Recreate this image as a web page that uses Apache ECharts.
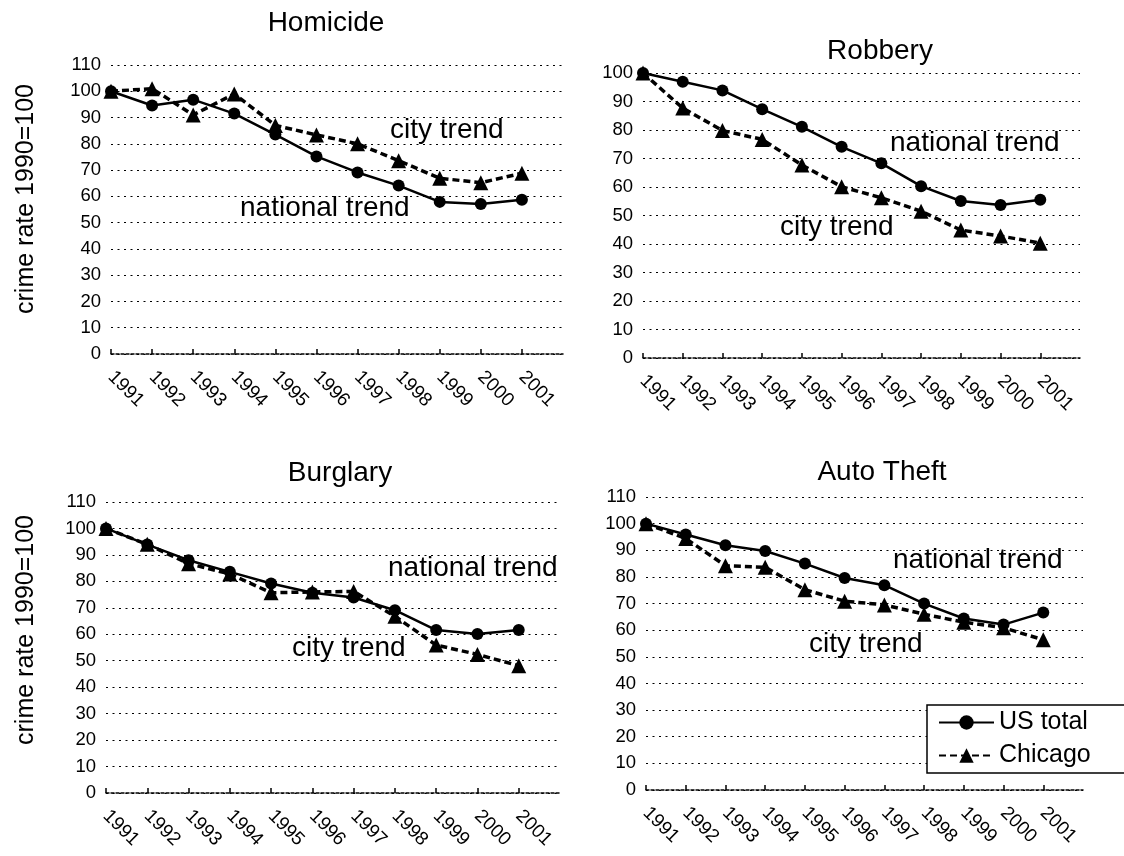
<!DOCTYPE html>
<html>
<head>
<meta charset="utf-8">
<script src="https://cdn.jsdelivr.net/npm/echarts@6/dist/echarts.min.js"></script>
<style>html,body{margin:0;padding:0;background:#fff}#c{width:1124px;height:856px}</style>
</head>
<body>
<div id="c"></div>
<script>
const years = ['1991','1992','1993','1994','1995','1996','1997','1998','1999','2000','2001',''];
const panelTitles = ['Homicide','Robbery','Burglary','Auto Theft'];
const yMax = [110, 100, 110, 110];

const homicideUS      = [100, 94.6, 96.8, 91.5, 83.5, 75.2, 69.1, 64.1, 57.9, 57.1, 58.7];
const homicideChicago = [100, 101, 91, 99, 87, 83.4, 80, 73.6, 66.9, 65.2, 68.8];
const robberyUS       = [100, 96.9, 93.9, 87.3, 81.1, 74.1, 68.3, 60.3, 55.1, 53.7, 55.5];
const robberyChicago  = [100, 87.7, 79.8, 76.7, 67.7, 60.1, 56.2, 51.5, 44.9, 42.8, 40.3];
const burglaryUS      = [100, 93.9, 88, 83.6, 79.2, 75.7, 73.9, 69.1, 61.6, 60.1, 61.6];
const burglaryChicago = [100, 94, 86.7, 82.8, 75.7, 76, 76.2, 66.8, 55.9, 52.4, 48.1];
const autoUS          = [100, 95.9, 91.9, 89.75, 85, 79.6, 76.9, 70, 64.4, 62.1, 66.6];
const autoChicago     = [100, 94.4, 84.2, 83.6, 75.2, 70.9, 69.5, 66, 63, 60.9, 56.4];

const usSeries = [homicideUS, robberyUS, burglaryUS, autoUS];
const chiSeries = [homicideChicago, robberyChicago, burglaryChicago, autoChicago];

const FONT = "'Liberation Sans', Arial, sans-serif";
const grids = [
  {left: 111, top: 65, width: 452, height: 289},
  {left: 643, top: 73, width: 437, height: 285},
  {left: 106, top: 502, width: 454, height: 291},
  {left: 646, top: 497, width: 437, height: 293}
];
const titlePos = [[326, 9], [880, 37], [340, 459], [882, 458]];
const notes = [
  ['city trend', 390, 116], ['national trend', 240, 194],
  ['national trend', 890, 129], ['city trend', 780, 213],
  ['national trend', 388, 554], ['city trend', 292, 634],
  ['national trend', 893, 546], ['city trend', 809, 630]
];

const xAxes = [], yAxes = [], series = [], graphics = [];
grids.forEach((g, i) => {
  xAxes.push({
    gridIndex: i, type: 'category', data: years, boundaryGap: false,
    axisLine: {lineStyle: {color: '#000', width: 1.5, type: [3, 2]}},
    axisTick: {inside: true, length: 5, lineStyle: {color: '#000', width: 1.5},
               interval: (idx) => idx < 11},
    axisLabel: {rotate: -45, color: '#000', fontSize: 19, fontFamily: FONT, margin: 20,
                interval: 0},
    splitLine: {show: false}
  });
  yAxes.push({
    gridIndex: i, type: 'value', min: 0, max: yMax[i], interval: 10,
    axisLine: {show: false}, axisTick: {show: false},
    axisLabel: {color: '#000', fontSize: 18.5, fontFamily: FONT, margin: 10},
    splitLine: {show: true, lineStyle: {color: '#000', width: 1.2, type: [2, 4.5]}}
  });
  series.push({
    name: 'US total', type: 'line', xAxisIndex: i, yAxisIndex: i, data: usSeries[i],
    symbol: 'circle', symbolSize: 12, color: '#000',
    lineStyle: {color: '#000', width: 2.5, type: 'solid'},
    itemStyle: {color: '#000'}, animation: false, z: 3
  });
  series.push({
    name: 'Chicago', type: 'line', xAxisIndex: i, yAxisIndex: i, data: chiSeries[i],
    symbol: 'triangle', symbolSize: 15, color: '#000',
    lineStyle: {color: '#000', width: 3.5, type: [7, 4]},
    itemStyle: {color: '#000'}, animation: false, z: 4
  });
  graphics.push({
    type: 'text', x: titlePos[i][0], y: titlePos[i][1],
    style: {text: panelTitles[i], fill: '#000', font: '28px ' + FONT, textAlign: 'center'}
  });
});
notes.forEach(n => {
  graphics.push({type: 'text', x: n[1], y: n[2], z: 10,
    style: {text: n[0], fill: '#000', font: '28px ' + FONT}});
});
[199, 630].forEach(cy => {
  graphics.push({type: 'text', x: 26, y: cy, rotation: Math.PI / 2,
    style: {text: 'crime rate 1990=100', fill: '#000', font: '25px ' + FONT,
            textAlign: 'center', textVerticalAlign: 'middle'}});
});

const chart = echarts.init(document.getElementById('c'), null, {renderer: 'canvas'});
chart.setOption({
  animation: false,
  backgroundColor: '#fff',
  grid: grids,
  xAxis: xAxes,
  yAxis: yAxes,
  series: series,
  graphic: graphics,
  legend: {
    data: ['US total', 'Chicago'], orient: 'vertical', left: 927, top: 705,
    itemWidth: 55, itemHeight: 18, itemGap: 8,
    padding: [5, 40, 5, 11], borderColor: '#000', borderWidth: 1.5, borderRadius: 0,
    backgroundColor: '#fff',
    textStyle: {fontSize: 25, color: '#000', fontFamily: FONT}
  }
});
</script>
</body>
</html>
